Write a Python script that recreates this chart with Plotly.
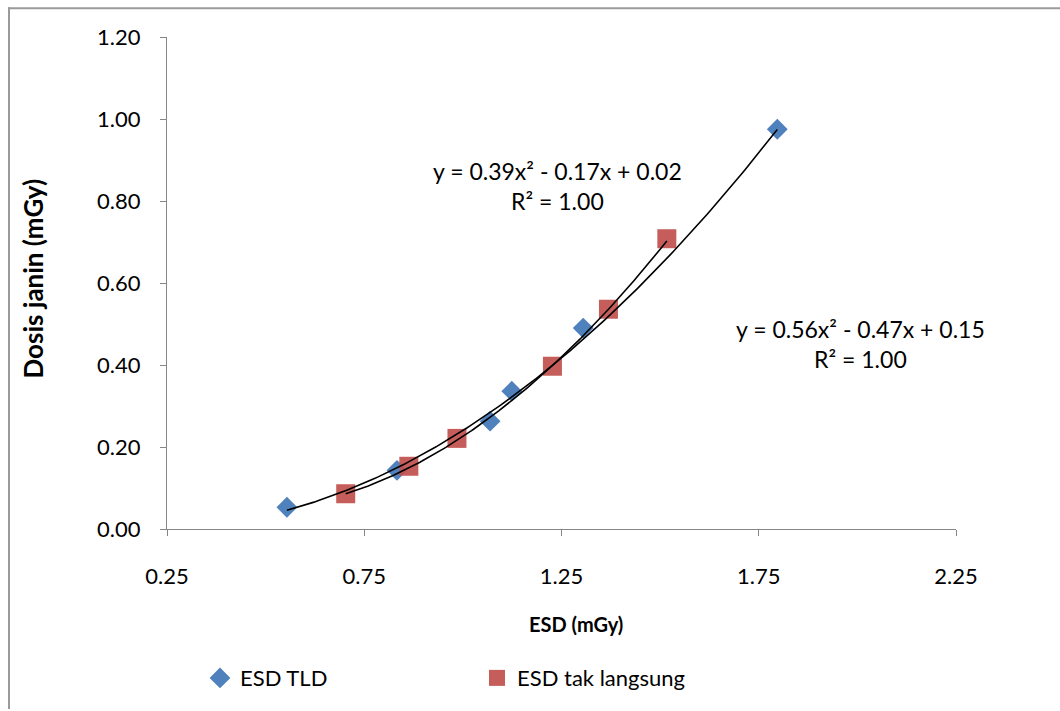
import numpy as np
import plotly.graph_objects as go

# ESD TLD series
tld_x = [0.554, 0.833, 1.069, 1.124, 1.305, 1.797]
tld_y = [0.053, 0.143, 0.263, 0.336, 0.490, 0.975]

# ESD tak langsung series
tak_x = [0.703, 0.863, 0.985, 1.227, 1.369, 1.517]
tak_y = [0.086, 0.153, 0.221, 0.397, 0.536, 0.708]

# second-order trendline coefficients (a, b, c) and R² for each series
tld_fit = [0.3902, -0.1702, 0.0202]
tak_fit = [0.5552, -0.4748, 0.1452]
fit_r2 = [1.00, 1.00]

x_ticks = [0.25, 0.75, 1.25, 1.75, 2.25]
y_ticks = [0.0, 0.2, 0.4, 0.6, 0.8, 1.0, 1.2]

BLUE = "#4F81BD"
RED = "#C0504D"
AXIS = "#868686"
FRAME = "#9A9A9A"
FONT = "Lato, 'Open Sans', sans-serif"

# plot-area pixel geometry used to place paper-anchored items
L, R, T, B = 167, 956, 37, 532
PW, PH = R - L, B - T


def px(x):
    return (x - L) / PW


def py(y):
    return (B - y) / PH


def eq_text(coef, r2):
    a, b, c = coef

    def term(v):
        return ("+ " if v >= 0 else "- ") + f"{abs(v):.2f}"
    return f"y = {a:.2f}x² {term(b)}x {term(c)}<br>R² = {r2:.2f}"


fig = go.Figure()

fig.add_trace(go.Scatter(
    x=tld_x, y=tld_y, mode="markers", name="ESD TLD",
    marker=dict(symbol="diamond", size=16, color=BLUE),
))
fig.add_trace(go.Scatter(
    x=tak_x, y=tak_y, mode="markers", name="ESD tak langsung",
    marker=dict(symbol="square", size=19, color=RED, opacity=0.92),
))

# trend curves over each series' x range
for xs, coef in ((tld_x, tld_fit), (tak_x, tak_fit)):
    xx = np.linspace(min(xs), max(xs), 200)
    fig.add_trace(go.Scatter(
        x=xx, y=np.polyval(coef, xx), mode="lines",
        line=dict(color="black", width=1.6), showlegend=False, hoverinfo="skip",
    ))

axis_common = dict(
    showgrid=False, zeroline=False, showline=True, linecolor=AXIS, linewidth=1,
    ticks="outside", ticklen=6, tickcolor=AXIS,
    tickfont=dict(family=FONT, size=22, color="black"),
)

fig.update_xaxes(range=[0.25, 2.25], tickvals=x_ticks,
                 ticktext=[f"{v:.2f}" for v in x_ticks],
                 ticklabelstandoff=22, **axis_common)
fig.update_yaxes(range=[0, 1.2], tickvals=y_ticks,
                 ticktext=[f"{v:.2f}" for v in y_ticks],
                 ticklabelstandoff=15, **axis_common)

# equation labels for both trend curves
label_pos = [(557, 187), (860, 346)]
for coef, r2, (lx, ly) in zip((tld_fit, tak_fit), fit_r2, label_pos):
    fig.add_annotation(x=px(lx), y=py(ly), xref="paper", yref="paper",
                       xanchor="center", yanchor="middle",
                       text=eq_text(coef, r2), showarrow=False, align="center",
                       font=dict(family=FONT, size=23, color="black"))

# axis titles
fig.add_annotation(x=px(576), y=py(628), xref="paper", yref="paper",
                   xanchor="center", yanchor="middle",
                   text="<b>ESD (mGy)</b>", showarrow=False,
                   font=dict(family=FONT, size=20, color="black"))
fig.add_annotation(x=px(33), y=py(280), xref="paper", yref="paper",
                   xanchor="center", yanchor="middle",
                   text="<b>Dosis janin (mGy)</b>", showarrow=False, textangle=-90,
                   font=dict(family=FONT, size=26, color="black"))

# chart frame (top and left edges)
fig.add_shape(type="line", xref="paper", yref="paper",
              x0=px(8), x1=px(1062), y0=py(8), y1=py(8),
              line=dict(color=FRAME, width=2))
fig.add_shape(type="line", xref="paper", yref="paper",
              x0=px(9), x1=px(9), y0=py(7), y1=py(713),
              line=dict(color=FRAME, width=2))

fig.update_layout(
    width=1060, height=711,
    margin=dict(l=L, r=1060 - R, t=T, b=711 - B),
    paper_bgcolor="white", plot_bgcolor="rgba(0,0,0,0)",
    font=dict(family=FONT, size=21, color="black"),
    showlegend=True,
    legend=dict(orientation="h", x=px(200), y=py(682),
                xanchor="left", yanchor="middle", entrywidth=232,
                entrywidthmode="pixels", font=dict(family=FONT, size=22),
                bgcolor="rgba(0,0,0,0)"),
)

fig.write_html("out.html")
